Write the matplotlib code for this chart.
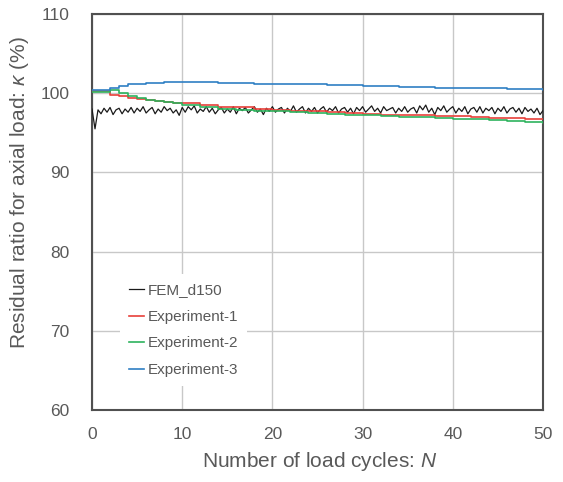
import numpy as np
import matplotlib
matplotlib.use('Agg')
import matplotlib.pyplot as plt

plt.rcParams['font.family'] = ['Liberation Sans', 'DejaVu Sans']
plt.rcParams['mathtext.fontset'] = 'custom'
plt.rcParams['mathtext.it'] = 'Liberation Sans:italic'
plt.rcParams['mathtext.rm'] = 'Liberation Sans'

# FEM result, three points per cycle
fem_n = np.arange(151) / 3.0
fem_k = [98.0, 95.5, 97.9, 97.4, 98.1, 97.6, 98.2, 97.3, 97.9, 98.1, 97.4, 98.0, 97.6, 98.2, 97.5,
         98.1, 97.7, 98.3, 97.5, 97.9, 98.2, 97.4, 98.0, 97.6, 98.3, 97.8, 98.1, 97.5, 97.9, 97.2,
         98.2, 97.6, 98.3, 97.9, 98.4, 97.5, 98.0, 97.7, 98.3, 97.6, 98.1, 97.4, 97.9, 98.2, 97.5,
         98.0, 97.6, 98.3, 97.4, 98.1, 97.8, 98.2, 97.5, 97.9, 98.3, 97.6, 98.0, 97.3, 98.1, 97.7,
         98.3, 97.6, 98.0, 98.2, 97.5, 98.1, 97.7, 98.4, 97.6, 98.0, 98.3, 97.5, 98.1, 97.7, 98.2,
         97.5, 98.0, 98.3, 97.6, 98.1, 97.8, 98.3, 97.5, 98.0, 98.2, 97.6, 98.1, 97.4, 98.2, 97.8,
         98.3, 97.6, 98.0, 98.4, 97.7, 98.1, 97.5, 98.3, 97.8, 98.0, 98.2, 97.5, 98.1, 97.7, 98.3,
         97.6, 98.0, 98.2, 97.5, 98.4, 97.9, 98.5, 97.6, 98.1, 97.3, 98.2, 97.8, 98.4, 97.6, 98.0,
         98.3, 97.5, 98.1, 97.7, 98.3, 97.4, 98.0, 98.2, 97.6, 98.3, 97.5, 98.1, 97.8, 98.2, 97.4,
         98.1, 97.7, 98.3, 97.5, 98.0, 98.2, 97.6, 98.1, 97.4, 98.2, 97.7, 98.0, 97.5, 98.1, 97.3,
         97.8]

# experiments (stepwise records)
exp_n = [0, 1, 2, 3, 4, 5, 6, 7, 8, 9, 10, 12, 14, 16, 18, 20, 22, 24, 26,
         28, 30, 32, 34, 36, 38, 40, 42, 44, 46, 48, 50]
exp1_k = [100.3, 100.3, 99.8, 99.6, 99.4, 99.3, 99.1, 99.0, 98.9, 98.8, 98.7,
          98.5, 98.3, 98.2, 98.0, 97.9, 97.8, 97.7, 97.6, 97.5, 97.4, 97.3,
          97.3, 97.2, 97.1, 97.1, 97.0, 96.9, 96.9, 96.8, 96.8]
exp2_k = [100.1, 100.2, 100.4, 100.0, 99.7, 99.4, 99.2, 99.0, 98.9, 98.7, 98.5,
          98.2, 98.0, 97.9, 97.8, 97.7, 97.6, 97.5, 97.4, 97.3, 97.2, 97.1,
          97.0, 97.0, 96.9, 96.8, 96.7, 96.6, 96.5, 96.4, 96.3]
exp3_k = [100.4, 100.4, 100.7, 100.9, 101.1, 101.2, 101.3, 101.3, 101.4, 101.4,
          101.4, 101.4, 101.3, 101.3, 101.2, 101.2, 101.1, 101.1, 101.0, 101.0,
          100.9, 100.9, 100.8, 100.8, 100.7, 100.7, 100.6, 100.6, 100.5, 100.5,
          100.4]

xticks = [0, 10, 20, 30, 40, 50]
yticks = [60, 70, 80, 90, 100, 110]

txt = '#595959'

fig = plt.figure(figsize=(5.63, 4.82), dpi=100)
ax = fig.add_axes([92 / 563, 1 - 410 / 482, 451 / 563, 396 / 482])

ax.plot(fem_n, fem_k, color='#1a1a1a', lw=0.9, label='FEM_d150', zorder=3)
ax.plot(exp_n, exp1_k, color='#e8403a', lw=1.2, drawstyle='steps-post',
        label='Experiment-1', zorder=4)
ax.plot(exp_n, exp2_k, color='#2db35d', lw=1.2, drawstyle='steps-post',
        label='Experiment-2', zorder=4)
ax.plot(exp_n, exp3_k, color='#2f7fc4', lw=1.2, drawstyle='steps-post',
        label='Experiment-3', zorder=4)

ax.set_xlim(0, 50)
ax.set_ylim(60, 110)
ax.set_xticks(xticks)
ax.set_yticks(yticks)
ax.grid(True, color='#c8c8c8', lw=1.0, zorder=0)
ax.set_axisbelow(True)
ax.tick_params(length=0, labelsize=12.5, labelcolor=txt)
ax.tick_params(axis='x', pad=12)
ax.tick_params(axis='y', pad=16)
for s in ax.spines.values():
    s.set_color('#505050')
    s.set_linewidth(1.5)

ax.set_xlabel('Number of load cycles: $N$', fontsize=15, color=txt)
ax.set_ylabel('Residual ratio for axial load: $\\kappa$ (%)', fontsize=15, color=txt)
ax.xaxis.set_label_coords(0.505, -0.10)
ax.yaxis.set_label_coords(-0.135, 0.548)

leg = ax.legend(loc='upper left', bbox_to_anchor=(0.062, 0.343), borderaxespad=0,
                fontsize=11, frameon=True, facecolor='white', edgecolor='none',
                framealpha=1, fancybox=False, handlelength=1.0, handletextpad=0.2,
                labelspacing=0.82, borderpad=0.6)
for t in leg.get_texts():
    t.set_color(txt)
leg.set_zorder(5)

fig.savefig('out.png', dpi=100)
